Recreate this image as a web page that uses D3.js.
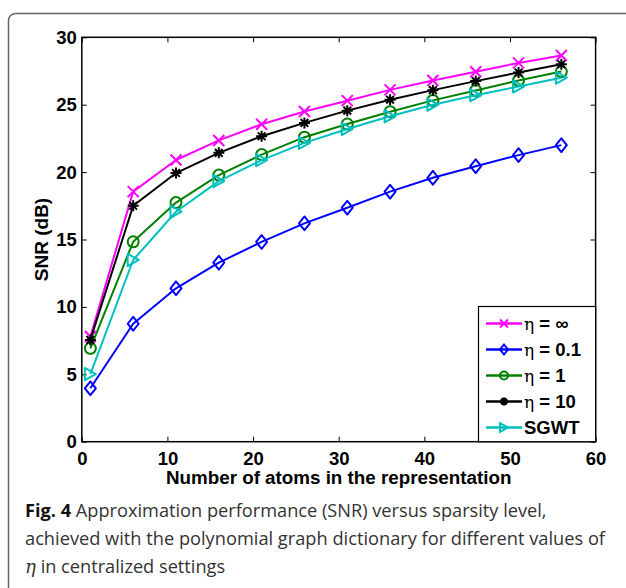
<!DOCTYPE html>
<html lang="en">
<head>
    <meta charset="UTF-8">
    <title>SNR vs atoms</title>
    <script src="https://cdn.jsdelivr.net/npm/d3@7/dist/d3.min.js"></script>
    <style>
        body {
            margin: 0;
            padding: 0;
            background: #fff;
        }
        .tick text {
            font-family: "Liberation Sans", Arial, sans-serif;
            font-weight: bold;
            font-size: 18.5px;
            fill: #000;
        }
        .series path {
            fill: none;
            stroke-width: 2;
            stroke-linejoin: round;
        }
        .caption {
            font-family: "Open Sans", "Noto Sans", sans-serif;
            font-size: 17px;
            fill: #333;
        }
    </style>
</head>
<body>
<svg width="626" height="588"></svg>
<script>
    // данные
    var atoms = [1, 6, 11, 16, 21, 26, 31, 36, 41, 46, 51, 56];
    var etaInf = [7.8, 18.55, 20.9, 22.35, 23.55, 24.5, 25.3, 26.1, 26.8, 27.45, 28.1, 28.65];
    var eta01 = [3.96, 8.75, 11.38, 13.28, 14.82, 16.2, 17.36, 18.55, 19.58, 20.44, 21.26, 22.0];
    var eta1 = [6.93, 14.83, 17.74, 19.78, 21.3, 22.59, 23.57, 24.48, 25.32, 26.06, 26.8, 27.46];
    var eta10 = [7.55, 17.5, 19.93, 21.43, 22.66, 23.65, 24.56, 25.37, 26.08, 26.75, 27.39, 28.0];
    var sgwt = [5.02, 13.48, 17.06, 19.33, 20.89, 22.17, 23.2, 24.14, 25.0, 25.7, 26.35, 27.0];
    var xTicks = [0, 10, 20, 30, 40, 50, 60];
    var yTicks = [0, 5, 10, 15, 20, 25, 30];

    var series = [
        {eta: '\u221E', label: null, values: etaInf, color: '#ff00ff', marker: 'x'},
        {eta: '0.1', label: null, values: eta01, color: '#0000ff', marker: 'diamond'},
        {eta: '1', label: null, values: eta1, color: '#008000', marker: 'circle'},
        {eta: '10', label: null, values: eta10, color: '#000000', marker: 'star'},
        {eta: null, label: 'SGWT', values: sgwt, color: '#00bfbf', marker: 'tri'}
    ];

    var svg = d3.select('svg');

    // рамка вокруг рисунка
    svg.append('rect')
        .attr('x', 8.5).attr('y', 13.5)
        .attr('width', 700).attr('height', 700)
        .attr('rx', 7)
        .attr('fill', 'none')
        .attr('stroke', '#666')
        .attr('stroke-width', 1.5);

    var pL = 81.8, pR = 595.6, pT = 37.3, pB = 441.7;
    var x = d3.scaleLinear().domain([0, 60]).range([pL, pR]);
    var y = d3.scaleLinear().domain([0, 30]).range([pB, pT]);

    // оси
    var gx = svg.append('g').attr('transform', 'translate(0,' + pB + ')')
        .call(d3.axisBottom(x).tickValues(xTicks).tickSizeInner(-5).tickSizeOuter(0).tickPadding(10));
    var gy = svg.append('g').attr('transform', 'translate(' + pL + ',0)')
        .call(d3.axisLeft(y).tickValues(yTicks).tickSizeInner(-5).tickSizeOuter(0).tickPadding(5));
    svg.append('g').attr('transform', 'translate(0,' + pT + ')')
        .call(d3.axisTop(x).tickValues(xTicks).tickSizeInner(-5).tickSizeOuter(0).tickFormat(''));
    svg.append('g').attr('transform', 'translate(' + pR + ',0)')
        .call(d3.axisRight(y).tickValues(yTicks).tickSizeInner(-5).tickSizeOuter(0).tickFormat(''));
    svg.selectAll('.domain').remove();
    svg.selectAll('.tick line').attr('stroke', '#000').attr('stroke-width', 1);
    gx.selectAll('.tick text').attr('dy', '0.71em');

    svg.append('rect')
        .attr('x', pL).attr('y', pT)
        .attr('width', pR - pL).attr('height', pB - pT)
        .attr('fill', 'none').attr('stroke', '#000').attr('stroke-width', 1.5);

    // подписи осей
    svg.append('text')
        .attr('x', (pL + pR) / 2).attr('y', 484)
        .attr('text-anchor', 'middle')
        .style('font-family', '"Liberation Sans", Arial, sans-serif')
        .style('font-weight', 'bold').style('font-size', '18.8px')
        .text('Number of atoms in the representation');
    svg.append('text')
        .attr('transform', 'translate(48,' + ((pT + pB) / 2) + ') rotate(-90)')
        .attr('text-anchor', 'middle')
        .style('font-family', '"Liberation Sans", Arial, sans-serif')
        .style('font-weight', 'bold').style('font-size', '19px')
        .text('SNR (dB)');

    // маркеры
    function drawMarker(g, type, color, s) {
        var h = s / 2;
        if (type === 'x') {
            g.append('path').attr('d', 'M' + (-h) + ',' + (-h) + 'L' + h + ',' + h + 'M' + (-h) + ',' + h + 'L' + h + ',' + (-h))
                .attr('stroke', color).attr('stroke-width', 2).attr('fill', 'none');
        } else if (type === 'diamond') {
            g.append('path').attr('d', 'M0,' + (-h * 1.25) + 'L' + h + ',0L0,' + (h * 1.25) + 'L' + (-h) + ',0Z')
                .attr('stroke', color).attr('stroke-width', 2).attr('fill', 'none');
        } else if (type === 'circle') {
            g.append('circle').attr('r', h)
                .attr('stroke', color).attr('stroke-width', 2).attr('fill', 'none');
        } else if (type === 'star') {
            g.append('path').attr('d', 'M' + (-h) + ',0L' + h + ',0M0,' + (-h) + 'L0,' + h +
                'M' + (-h * 0.7) + ',' + (-h * 0.7) + 'L' + (h * 0.7) + ',' + (h * 0.7) +
                'M' + (-h * 0.7) + ',' + (h * 0.7) + 'L' + (h * 0.7) + ',' + (-h * 0.7))
                .attr('stroke', color).attr('stroke-width', 2.5).attr('fill', 'none');
            g.append('circle').attr('r', h * 0.45).attr('fill', color);
        } else if (type === 'tri') {
            g.append('path').attr('d', 'M' + (-h) + ',' + (-h * 1.1) + 'L' + h + ',0L' + (-h) + ',' + (h * 1.1) + 'Z')
                .attr('stroke', color).attr('stroke-width', 2).attr('fill', 'none');
        }
    }

    var line = d3.line()
        .x(function(d, i) { return x(atoms[i]); })
        .y(function(d) { return y(d); });

    series.forEach(function(s) {
        var g = svg.append('g').attr('class', 'series');
        g.append('path').attr('d', line(s.values)).attr('stroke', s.color);
        g.selectAll('g.m').data(s.values).enter().append('g')
            .attr('class', 'm')
            .attr('transform', function(d, i) { return 'translate(' + x(atoms[i]) + ',' + y(d) + ')'; })
            .each(function() { drawMarker(d3.select(this), s.marker, s.color, 11); });
    });

    // легенда
    var lg = svg.append('g');
    lg.append('rect')
        .attr('x', 478.5).attr('y', 306.5)
        .attr('width', pR - 478.5).attr('height', pB - 306.5)
        .attr('fill', '#fff').attr('stroke', '#000').attr('stroke-width', 1.2);
    series.forEach(function(s, i) {
        var cy = 323.5 + i * 26;
        lg.append('line').attr('x1', 486).attr('x2', 522).attr('y1', cy).attr('y2', cy)
            .attr('stroke', s.color).attr('stroke-width', 2.5);
        drawMarker(lg.append('g').attr('transform', 'translate(504,' + cy + ')'), s.marker, s.color, 8);
        var t = lg.append('text').attr('x', 524).attr('y', cy + 6.5)
            .style('font-family', '"Liberation Sans", Arial, sans-serif')
            .style('font-size', '18.5px').style('font-weight', 'bold');
        if (s.eta !== null) {
            t.append('tspan').style('font-family', '"DejaVu Serif", serif').style('font-weight', 'normal')
                .style('font-size', '17px').text('\u03B7');
            t.append('tspan').text(' = ' + s.eta);
        } else {
            t.text(s.label);
        }
    });

    // подпись рисунка
    var cap = svg.append('g').attr('class', 'caption');
    var l1 = cap.append('text').attr('x', 25).attr('y', 517);
    l1.append('tspan').style('font-weight', 'bold').style('fill', '#111').text('Fig. 4');
    l1.append('tspan').text(' Approximation performance (SNR) versus sparsity level,');
    var l2 = cap.append('text').attr('x', 25).attr('y', 545)
        .text('achieved with the polynomial graph dictionary for different values of');
    var l3 = cap.append('text').attr('x', 25).attr('y', 573);
    l3.append('tspan').style('font-family', '"DejaVu Serif", serif').style('font-style', 'italic').text('\u03B7');
    l3.append('tspan').text(' in centralized settings');
    // подгоняем размер шрифта под ширину строки
    var w1 = l1.node().getComputedTextLength();
    var fs = 17 * 522 / w1;
    cap.style('font-size', fs + 'px');
    l2.attr('textLength', 580).attr('lengthAdjust', 'spacingAndGlyphs');
</script>
</body>
</html>
